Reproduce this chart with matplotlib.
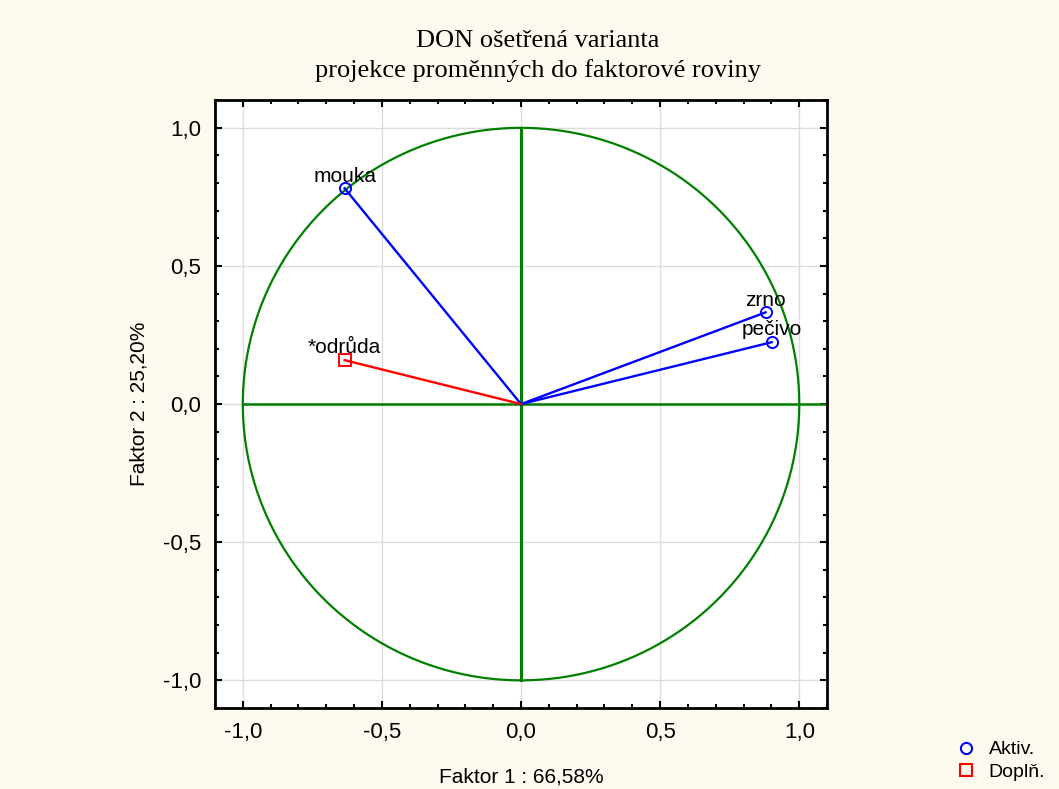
import numpy as np
import matplotlib
matplotlib.use('Agg')
from matplotlib import pyplot as plt
from matplotlib.ticker import MultipleLocator, FuncFormatter
from matplotlib.lines import Line2D

# active variables (factor loadings)
act_names = ['mouka', 'zrno', 'pečivo']
act_f1 = [-0.634, 0.879, 0.901]
act_f2 = [0.781, 0.332, 0.224]

# supplementary variable
sup_names = ['*odrůda']
sup_f1 = [-0.634]
sup_f2 = [0.159]

title = 'DON ošetřená varianta\nprojekce proměnných do faktorové roviny'
xlabel = 'Faktor 1 : 66,58%'
ylabel = 'Faktor 2 : 25,20%'

bg = '#fffaf0'
green = '#008000'
plt.rcParams['font.family'] = ['Liberation Sans', 'DejaVu Sans']

fig = plt.figure(figsize=(10.59, 7.89), dpi=100, facecolor=bg)
ax = fig.add_axes([0.203, 0.1027, 0.578, 0.7703])
ax.set_xlim(-1.1, 1.1)
ax.set_ylim(-1.1, 1.1)

ax.grid(True, color='#dcdcdc', lw=1)
ax.set_axisbelow(True)

# unit circle and axes through origin
t = np.linspace(0, 2 * np.pi, 400)
ax.plot(np.cos(t), np.sin(t), color=green, lw=1.6, zorder=2)
ax.plot([-1, 1.1], [0, 0], color=green, lw=1.8, zorder=2)
ax.plot([0, 0], [-1, 1], color=green, lw=2.2, zorder=2)

for x, y in zip(act_f1, act_f2):
    ax.plot([0, x], [0, y], color='blue', lw=1.7, zorder=3)
for x, y in zip(sup_f1, sup_f2):
    ax.plot([0, x], [0, y], color='red', lw=1.7, zorder=3)

ax.plot(act_f1, act_f2, 'o', mfc='none', mec='blue', ms=8, mew=1.4, ls='none', zorder=4)
ax.plot(sup_f1, sup_f2, 's', mfc='none', mec='red', ms=8, mew=1.4, ls='none', zorder=4)

for n, x, y in zip(act_names + sup_names, act_f1 + sup_f1, act_f2 + sup_f2):
    ax.annotate(n, (x, y), xytext=(0, 2), textcoords='offset points',
                ha='center', va='bottom', fontsize=15)

ax.xaxis.set_major_locator(MultipleLocator(0.5))
ax.yaxis.set_major_locator(MultipleLocator(0.5))
ax.xaxis.set_minor_locator(MultipleLocator(0.1))
ax.yaxis.set_minor_locator(MultipleLocator(0.1))
fmt = FuncFormatter(lambda v, p: ('%.1f' % v).replace('.', ','))
ax.xaxis.set_major_formatter(fmt)
ax.yaxis.set_major_formatter(fmt)
ax.tick_params(which='both', direction='in', top=True, right=True, labelsize=16, width=1.5)
ax.tick_params(which='major', length=5, pad=10)
ax.tick_params(which='minor', length=3)
for s in ax.spines.values():
    s.set_linewidth(2)

ax.set_xlabel(xlabel, fontsize=15, labelpad=18)
ax.set_ylabel(ylabel, fontsize=15, labelpad=10)

fig.text(0.508, 0.929, title, ha='center', va='center', fontsize=19,
         family='Liberation Serif', linespacing=1.35)

handles = [Line2D([], [], marker='o', mfc='none', mec='blue', ls='none', ms=8, mew=1.5),
           Line2D([], [], marker='s', mfc='none', mec='red', ls='none', ms=8, mew=1.5)]
fig.legend(handles, ['Aktiv.', 'Doplň.'], loc='lower left', bbox_to_anchor=(0.882, -0.012),
           frameon=False, fontsize=14, handletextpad=0.4, labelspacing=0.25, handlelength=1.5)

fig.savefig('out.png', dpi=100, facecolor=bg)
